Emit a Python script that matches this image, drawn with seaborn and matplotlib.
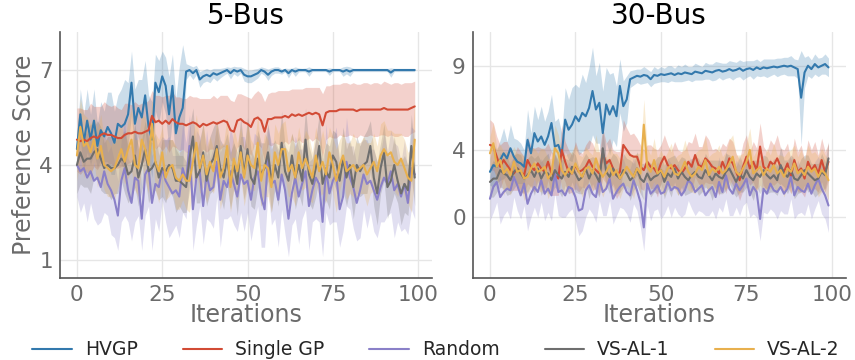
import numpy as np
import matplotlib
matplotlib.use("Agg")
import matplotlib.pyplot as plt
import seaborn as sns

iterations = np.arange(100)
methods = ["HVGP", "Single GP", "Random", "VS-AL-1", "VS-AL-2"]
colors = ["#3379ad", "#d24b35", "#8a80c8", "#6e6e6e", "#e8b04e"]

# ---- 5-Bus: mean curves ----
hvgp_5 = [4.5, 5.6, 4.7, 5.4, 4.8, 5.4, 4.6, 5.1, 4.9, 5.2,
          5.0, 4.7, 5.3, 5.2, 5.3, 5.6, 6.6, 5.3, 5.8, 5.5,
          6.2, 5.2, 4.8, 6.6, 6.3, 6.8, 6.5, 5.6, 6.5, 5.0,
          5.5, 5.8, 6.95, 7.0, 6.9, 7.0, 6.7, 6.8, 6.85, 6.8,
          6.9, 6.85, 6.9, 6.95, 7.0, 6.9, 7.0, 6.95, 7.0, 6.85,
          6.8, 6.8, 6.85, 6.9, 7.0, 6.95, 6.85, 6.95, 7.0, 7.0,
          6.95, 7.0, 6.9, 7.0, 6.95, 7.0, 7.0, 7.0, 6.95, 7.0,
          7.0, 7.0, 7.0, 7.0, 6.95, 7.0, 7.0, 7.0, 6.95, 7.0,
          6.95, 7.0, 7.0, 7.0, 7.0, 7.0, 7.0, 7.0, 7.0, 7.0,
          7.0, 7.0, 6.92, 7.0, 7.0, 7.0, 7.0, 7.0, 7.0, 7.0]
single_5 = [4.8, 4.75, 4.8, 4.75, 4.85, 4.9, 4.85, 4.95, 5.0, 4.95,
            4.95, 4.9, 4.85, 4.85, 4.95, 5.0, 5.0, 5.05, 5.0, 5.0,
            5.05, 5.1, 5.55, 5.35, 5.4, 5.3, 5.4, 5.3, 5.45, 5.35,
            5.3, 5.3, 5.25, 5.3, 5.35, 5.3, 5.2, 5.3, 5.25, 5.3,
            5.35, 5.3, 5.35, 5.4, 5.35, 5.1, 5.05, 5.4, 5.45, 5.35,
            5.3, 5.2, 5.45, 5.5, 5.4, 5.05, 5.45, 5.45, 5.5, 5.5,
            5.5, 5.55, 5.5, 5.6, 5.55, 5.6, 5.55, 5.6, 5.65, 5.6,
            5.65, 5.6, 5.25, 5.65, 5.7, 5.7, 5.7, 5.75, 5.75, 5.75,
            5.75, 5.75, 5.7, 5.75, 5.75, 5.75, 5.75, 5.75, 5.75, 5.75,
            5.8, 5.75, 5.75, 5.75, 5.75, 5.75, 5.75, 5.75, 5.8, 5.85]
random_5 = [4.0, 3.8, 3.9, 3.6, 3.8, 3.5, 3.6, 3.3, 3.8, 3.4,
            3.2, 2.9, 2.4, 3.5, 3.9, 3.2, 2.8, 3.6, 3.5, 2.3,
            3.7, 3.9, 2.8, 3.4, 3.3, 3.9, 3.5, 3.3, 3.1, 3.2,
            3.0, 3.9, 3.5, 4.6, 2.6, 3.6, 3.8, 2.7, 3.7, 3.2,
            3.3, 4.1, 2.9, 3.5, 3.3, 3.8, 3.4, 3.0, 3.7, 3.4,
            3.5, 2.9, 3.6, 3.8, 3.0, 2.6, 4.2, 3.4, 3.5, 2.9,
            3.7, 3.2, 2.3, 3.1, 3.6, 3.0, 3.4, 3.8, 2.7, 3.2,
            3.6, 3.4, 2.2, 3.9, 3.1, 3.5, 3.7, 2.6, 3.0, 4.1,
            3.6, 3.3, 2.8, 3.2, 3.7, 3.4, 3.5, 3.2, 2.9, 3.3,
            3.6, 3.4, 3.8, 3.2, 3.4, 3.0, 3.4, 2.8, 3.9, 3.7]
vsal1_5 = [4.0, 4.4, 4.1, 4.2, 4.2, 4.4, 4.5, 4.2, 3.9, 4.0,
           3.9, 3.9, 4.0, 4.2, 4.1, 3.7, 3.8, 4.3, 3.6, 4.0,
           4.5, 3.8, 3.9, 4.1, 3.6, 3.9, 3.8, 4.0, 3.9, 3.5,
           3.5, 3.4, 3.3, 4.2, 4.9, 3.6, 3.8, 4.4, 3.5, 4.0,
           4.2, 4.6, 3.9, 3.6, 4.2, 3.5, 4.0, 3.4, 4.6, 3.7,
           4.5, 3.6, 3.4, 4.2, 3.7, 3.9, 4.4, 3.5, 4.0, 3.6,
           4.7, 3.8, 3.5, 4.3, 3.6, 4.0, 3.5, 4.8, 3.7, 3.4,
           3.9, 4.6, 3.4, 3.8, 3.6, 4.3, 4.1, 3.5, 4.2, 3.6,
           4.0, 3.3, 4.0, 3.8, 4.0, 4.1, 4.6, 3.6, 3.1, 3.9,
           4.4, 3.3, 3.5, 4.0, 3.5, 3.1, 3.4, 3.2, 4.6, 3.6]
vsal2_5 = [4.3, 5.2, 4.6, 4.7, 4.4, 4.8, 4.2, 4.6, 4.0, 3.9,
           3.8, 3.9, 4.2, 4.5, 4.1, 4.5, 4.8, 4.0, 3.9, 4.8,
           4.5, 4.0, 5.3, 4.1, 3.8, 4.4, 3.6, 3.9, 4.0, 3.6,
           3.5, 3.7, 3.5, 3.5, 4.1, 4.7, 3.9, 4.3, 3.7, 4.1,
           3.8, 4.5, 3.6, 3.9, 4.6, 3.3, 4.2, 3.8, 4.4, 3.6,
           4.3, 4.0, 3.9, 4.7, 3.5, 4.0, 3.9, 3.3, 4.4, 4.0,
           4.5, 4.5, 3.8, 4.0, 3.6, 4.4, 3.9, 4.2, 3.9, 3.6,
           4.3, 3.8, 4.1, 3.7, 4.4, 4.0, 3.5, 4.0, 4.3, 3.8,
           3.9, 4.0, 3.8, 3.9, 4.0, 3.7, 3.9, 4.1, 3.8, 4.3,
           4.5, 4.3, 4.4, 4.1, 4.0, 4.2, 3.9, 3.6, 3.5, 4.8]

# ---- 5-Bus: band half-widths ----
hvgp_5_sd = [0.5, 0.8, 0.9, 1.0, 0.8, 1.0, 0.7, 0.9, 0.8, 1.1,
             1.3, 1.0, 0.9, 1.2, 1.4, 1.0, 1.0, 1.1, 0.9, 1.2,
             1.1, 1.0, 1.2, 0.9, 1.0, 0.8, 0.9, 1.2, 1.0, 1.1,
             1.6, 2.0, 0.25, 0.15, 0.2, 0.15, 0.25, 0.2, 0.2, 0.2,
             0.15, 0.2, 0.15, 0.12, 0.1, 0.18, 0.12, 0.15, 0.1, 0.2,
             0.2, 0.2, 0.18, 0.15, 0.1, 0.12, 0.18, 0.12, 0.1, 0.1,
             0.08, 0.06, 0.15, 0.06, 0.15, 0.06, 0.05, 0.06, 0.15, 0.05,
             0.05, 0.05, 0.05, 0.05, 0.12, 0.05, 0.05, 0.05, 0.15, 0.12,
             0.15, 0.05, 0.05, 0.05, 0.05, 0.05, 0.05, 0.05, 0.05, 0.05,
             0.05, 0.05, 0.15, 0.05, 0.05, 0.05, 0.05, 0.05, 0.05, 0.05]
single_5_sd = [1.0, 1.05, 0.95, 1.0, 1.1, 0.95, 1.0, 0.9, 1.0, 0.95,
               0.9, 1.0, 0.95, 0.9, 1.0, 0.95, 0.9, 0.95, 0.9, 0.95,
               0.9, 0.95, 0.8, 0.85, 0.8, 0.85, 0.8, 0.9, 0.85, 0.8,
               0.85, 0.8, 0.85, 0.9, 0.8, 0.85, 0.9, 0.8, 0.85, 0.8,
               0.85, 0.8, 0.85, 0.8, 0.85, 0.95, 0.95, 0.85, 0.8, 0.85,
               0.85, 0.9, 0.8, 0.85, 0.85, 0.95, 0.8, 0.85, 0.8, 0.85,
               0.85, 0.8, 0.85, 0.8, 0.85, 0.8, 0.85, 0.85, 0.8, 0.85,
               0.8, 0.85, 1.0, 0.85, 0.8, 0.85, 0.85, 0.8, 0.85, 0.85,
               0.8, 0.85, 0.85, 0.8, 0.85, 0.85, 0.8, 0.85, 0.85, 0.8,
               0.85, 0.85, 0.8, 0.85, 0.85, 0.8, 0.85, 0.85, 0.8, 0.8]
random_5_sd = [1.0, 1.3, 1.1, 1.4, 1.0, 1.2, 1.5, 1.1, 1.3, 1.0,
               1.4, 1.2, 1.1, 1.3, 1.5, 1.0, 1.2, 1.4, 1.1, 1.0,
               1.3, 1.2, 1.5, 1.1, 1.4, 1.0, 1.3, 1.6, 1.2, 1.1,
               1.3, 1.4, 1.2, 1.0, 1.3, 1.5, 1.1, 1.2, 1.4, 1.0,
               1.3, 1.1, 1.5, 1.2, 1.0, 1.4, 1.3, 1.1, 1.2, 1.5,
               1.0, 1.3, 1.4, 1.1, 1.6, 1.2, 1.0, 1.3, 1.2, 1.5,
               1.1, 1.4, 1.2, 1.0, 1.3, 1.5, 1.1, 1.2, 1.4, 1.0,
               1.3, 1.2, 1.1, 1.4, 1.0, 1.3, 1.5, 1.2, 1.1, 1.4,
               1.0, 1.3, 1.2, 1.5, 1.1, 1.4, 1.0, 1.3, 1.2, 1.1,
               1.4, 1.0, 1.3, 1.5, 1.2, 1.1, 1.4, 1.0, 1.3, 1.4]
vsal1_5_sd = [0.9, 1.0, 0.8, 0.9, 1.1, 0.8, 0.9, 1.0, 0.8, 0.9,
              1.0, 0.8, 0.9, 0.7, 1.0, 0.9, 0.8, 1.0, 0.9, 0.8,
              0.9, 1.0, 0.8, 0.9, 0.7, 0.9, 1.0, 0.8, 0.9, 1.0,
              0.8, 0.9, 0.8, 1.0, 0.9, 0.8, 1.0, 0.9, 0.8, 0.9,
              1.0, 0.8, 0.9, 1.0, 0.8, 0.9, 0.7, 1.0, 0.9, 0.8,
              1.0, 0.9, 0.8, 0.9, 1.0, 0.8, 0.9, 1.0, 0.8, 0.9,
              1.0, 0.8, 0.9, 0.7, 1.0, 0.9, 0.8, 1.0, 0.9, 0.8,
              0.9, 1.0, 0.8, 0.9, 1.0, 0.8, 0.9, 0.7, 1.0, 0.9,
              0.8, 1.0, 0.9, 0.8, 0.9, 1.0, 0.8, 0.9, 1.0, 0.8,
              0.9, 1.0, 0.8, 0.9, 0.7, 1.0, 0.9, 0.8, 1.0, 0.9]
vsal2_5_sd = [0.8, 0.9, 1.0, 0.8, 0.9, 0.7, 0.9, 1.0, 0.8, 0.9,
              0.8, 1.0, 0.9, 0.8, 0.7, 0.9, 1.0, 0.8, 0.9, 0.8,
              1.0, 0.9, 0.8, 0.9, 1.0, 0.8, 0.7, 0.9, 0.8, 1.0,
              0.9, 0.8, 0.9, 1.0, 0.8, 0.9, 0.8, 1.0, 0.9, 0.8,
              0.7, 0.9, 1.0, 0.8, 0.9, 0.8, 1.0, 0.9, 0.8, 0.9,
              1.0, 0.8, 0.7, 0.9, 0.8, 1.0, 0.9, 0.8, 0.9, 1.0,
              0.8, 0.9, 0.8, 1.0, 0.9, 0.8, 0.7, 0.9, 1.0, 0.8,
              0.9, 0.8, 1.0, 0.9, 0.8, 0.9, 1.0, 0.8, 0.7, 0.9,
              0.8, 1.0, 0.9, 0.8, 0.9, 1.0, 0.8, 0.9, 0.8, 1.0,
              0.9, 0.8, 0.7, 0.9, 1.0, 0.8, 0.9, 0.8, 1.0, 1.2]

# ---- 30-Bus: mean curves ----
hvgp_30 = [2.7, 3.1, 3.0, 3.4, 3.8, 3.5, 4.1, 3.6, 3.3, 3.2,
           3.0, 4.6, 3.8, 5.0, 4.5, 4.8, 4.3, 4.8, 5.6, 4.2,
           4.3, 3.7, 5.8, 5.2, 5.5, 6.0, 5.7, 6.2, 6.0, 6.5,
           7.5, 6.4, 6.8, 5.0, 6.7, 6.1, 6.6, 6.0, 7.8, 6.6,
           7.0, 8.2, 8.3, 8.4, 8.35, 8.45, 8.4, 8.2, 8.45, 8.4,
           8.5, 8.45, 8.5, 8.55, 8.45, 8.55, 8.5, 8.6, 8.55, 8.5,
           8.65, 8.6, 8.55, 8.7, 8.65, 8.6, 8.7, 8.75, 8.65, 8.7,
           8.8, 8.7, 8.75, 8.85, 8.7, 8.8, 8.85, 8.75, 8.9, 8.8,
           8.9, 8.85, 8.9, 8.95, 8.9, 8.95, 9.0, 8.95, 9.0, 8.9,
           8.8, 7.1, 8.6, 9.0, 8.8, 9.1, 8.9, 9.0, 9.1, 8.9]
single_30 = [4.3, 4.2, 3.6, 3.0, 3.4, 3.1, 2.8, 2.6, 2.9, 2.7,
             2.5, 3.4, 3.0, 2.8, 3.2, 2.9, 2.7, 3.3, 2.6, 2.5,
             2.3, 4.0, 3.3, 2.7, 2.6, 3.1, 2.7, 2.8, 3.0, 3.4,
             3.0, 2.8, 2.6, 3.8, 3.2, 3.4, 2.9, 2.5, 2.7, 4.3,
             4.0, 3.7, 3.6, 3.6, 3.0, 2.8, 3.3, 3.0, 2.9, 2.6,
             3.2, 3.6, 3.1, 2.9, 3.1, 2.8, 2.6, 2.9, 3.3, 3.0,
             3.7, 3.1, 3.0, 3.5, 3.3, 3.0, 2.9, 2.6, 3.3, 2.8,
             3.5, 3.2, 2.7, 2.2, 3.0, 3.6, 2.9, 3.3, 2.8, 4.2,
             3.0, 2.8, 3.3, 3.1, 3.5, 3.0, 2.7, 3.2, 2.4, 3.4,
             2.7, 2.9, 2.3, 3.3, 2.8, 3.1, 2.6, 3.4, 2.7, 3.3]
random_30 = [1.1, 1.8, 2.1, 1.2, 1.5, 1.7, 1.6, 2.4, 1.9, 1.3,
             2.0, 0.8, 1.4, 1.8, 1.5, 2.2, 1.4, 1.7, 1.3, 2.6,
             1.5, 1.6, 1.3, 1.8, 1.7, 1.2, 0.4, 0.5, 1.6, 1.9,
             1.4, 1.2, 2.3, 1.5, 1.7, 2.3, 1.1, 1.5, 1.8, 2.0,
             1.5, 1.3, 2.2, 1.6, 0.9, -0.6, 2.0, 1.4, 1.6, 1.9,
             1.4, 1.5, 2.1, 1.6, 1.8, 1.7, 1.3, 1.6, 2.2, 2.0,
             1.5, 1.7, 1.9, 1.3, 1.6, 1.8, 1.2, 2.1, 1.5, 2.5,
             1.7, 1.4, 2.0, 1.6, 1.9, 2.3, 1.3, 1.8, 1.5, -0.1,
             1.7, 1.4, 2.0, 1.6, 1.5, 1.8, 1.4, 1.7, 2.4, 1.3,
             1.8, 1.6, 1.5, 2.0, 1.4, 1.9, 2.3, 1.7, 1.3, 0.7]
vsal1_30 = [2.1, 2.3, 2.3, 2.8, 2.6, 2.5, 2.2, 2.7, 2.9, 2.6,
            2.3, 2.5, 2.8, 2.4, 2.9, 2.3, 2.7, 2.6, 2.2, 2.8,
            2.5, 2.3, 2.7, 2.4, 3.0, 2.6, 2.2, 2.4, 2.9, 2.3,
            2.8, 2.5, 2.1, 4.1, 2.7, 2.4, 2.9, 2.5, 2.3, 2.8,
            2.6, 2.2, 2.4, 2.9, 2.3, 2.1, 2.6, 2.2, 2.4, 2.5,
            2.8, 2.1, 2.6, 2.4, 2.9, 2.3, 2.7, 2.4, 2.2, 2.5,
            2.7, 2.4, 2.3, 2.8, 2.5, 2.2, 2.6, 2.4, 2.3, 2.7,
            2.9, 2.5, 2.1, 2.6, 2.3, 2.8, 2.4, 2.2, 2.6, 2.4,
            2.8, 2.5, 2.3, 2.5, 2.2, 3.1, 2.6, 2.4, 2.8, 2.3,
            2.2, 2.5, 2.8, 2.6, 2.4, 2.2, 2.3, 2.7, 2.5, 3.5]
vsal2_30 = [3.8, 4.4, 3.0, 3.4, 2.6, 2.9, 2.5, 3.3, 2.7, 2.8,
            2.3, 2.4, 2.9, 3.2, 2.7, 2.8, 3.0, 2.3, 2.6, 4.1,
            3.8, 2.8, 2.5, 2.9, 2.6, 3.2, 2.7, 2.4, 2.9, 3.0,
            2.6, 3.5, 2.8, 2.4, 2.7, 3.1, 2.5, 2.8, 2.3, 2.6,
            3.0, 2.7, 2.4, 2.9, 2.6, 5.5, 3.0, 2.7, 3.4, 2.6,
            2.8, 2.4, 2.9, 3.1, 2.6, 2.5, 2.8, 3.3, 2.7, 2.4,
            2.6, 3.0, 2.8, 3.4, 2.5, 2.9, 2.7, 3.0, 2.6, 2.8,
            3.2, 3.6, 2.7, 2.5, 2.9, 3.3, 4.0, 2.6, 2.8, 3.0,
            2.5, 2.9, 2.7, 3.1, 2.6, 2.8, 2.4, 2.9, 2.7, 3.2,
            2.6, 2.8, 2.5, 3.0, 2.7, 2.9, 2.4, 2.8, 2.6, 2.2]

# ---- 30-Bus: band half-widths ----
hvgp_30_sd = [0.8, 1.3, 1.0, 1.2, 1.5, 1.0, 1.4, 1.1, 1.3, 1.2,
              1.0, 1.8, 1.2, 1.6, 1.3, 1.8, 1.4, 1.5, 1.7, 1.5,
              1.6, 1.3, 1.9, 1.8, 2.2, 1.9, 2.0, 2.3, 2.0, 2.4,
              2.6, 2.0, 2.4, 2.5, 2.2, 2.4, 2.0, 1.8, 1.6, 1.5,
              1.4, 0.5, 0.45, 0.4, 0.45, 0.5, 0.4, 0.45, 0.5, 0.4,
              0.45, 0.4, 0.5, 0.45, 0.4, 0.5, 0.45, 0.5, 0.4, 0.45,
              0.5, 0.45, 0.4, 0.5, 0.45, 0.5, 0.55, 0.45, 0.5, 0.45,
              0.5, 0.55, 0.45, 0.5, 0.55, 0.5, 0.45, 0.55, 0.5, 0.45,
              0.5, 0.55, 0.5, 0.45, 0.55, 0.5, 0.5, 0.55, 0.6, 0.5,
              0.55, 2.8, 0.9, 0.6, 0.55, 0.6, 0.55, 0.5, 0.6, 0.55]
single_30_sd = [1.5, 1.4, 1.2, 1.3, 1.1, 1.4, 1.2, 1.0, 1.3, 1.2,
                1.1, 1.4, 1.2, 1.3, 1.0, 1.2, 1.4, 1.1, 1.3, 1.2,
                1.0, 1.5, 1.2, 1.3, 1.1, 1.4, 1.2, 1.0, 1.3, 1.2,
                1.4, 1.1, 1.3, 1.5, 1.2, 1.3, 1.1, 1.4, 1.2, 1.5,
                1.3, 1.2, 1.4, 1.1, 1.3, 1.2, 1.0, 1.3, 1.2, 1.4,
                1.1, 1.3, 1.2, 1.0, 1.4, 1.2, 1.3, 1.1, 1.2, 1.4,
                1.3, 1.1, 1.2, 1.4, 1.3, 1.0, 1.2, 1.3, 1.1, 1.4,
                1.2, 1.3, 1.1, 1.2, 1.4, 1.3, 1.0, 1.2, 1.3, 1.4,
                1.2, 1.1, 1.3, 1.2, 1.4, 1.1, 1.3, 1.2, 1.0, 1.3,
                1.2, 1.4, 1.1, 1.3, 1.2, 1.4, 1.1, 1.3, 1.2, 1.1]
random_30_sd = [1.3, 1.5, 1.2, 1.6, 1.4, 1.3, 1.7, 1.2, 1.5, 1.4,
                1.3, 1.6, 1.4, 1.2, 1.5, 1.3, 1.6, 1.4, 1.5, 1.2,
                1.4, 1.6, 1.3, 1.5, 1.2, 1.4, 1.5, 1.3, 1.6, 1.4,
                1.2, 1.5, 1.3, 1.4, 1.6, 1.3, 1.5, 1.4, 1.2, 1.5,
                1.3, 1.6, 1.4, 1.2, 1.5, 1.4, 1.3, 1.6, 1.2, 1.4,
                1.5, 1.3, 1.4, 1.6, 1.2, 1.5, 1.3, 1.4, 1.2, 1.5,
                1.4, 1.3, 1.6, 1.2, 1.5, 1.4, 1.3, 1.5, 1.2, 1.4,
                1.6, 1.3, 1.4, 1.5, 1.2, 1.4, 1.3, 1.6, 1.5, 1.3,
                1.4, 1.2, 1.5, 1.3, 1.6, 1.4, 1.2, 1.5, 1.3, 1.4,
                1.6, 1.3, 1.4, 1.2, 1.5, 1.4, 1.3, 1.5, 1.4, 1.6]
vsal1_30_sd = [0.9, 1.1, 0.8, 1.0, 0.9, 1.2, 0.8, 1.0, 0.9, 1.1,
               0.8, 1.0, 0.9, 1.1, 0.8, 1.0, 0.9, 1.2, 0.8, 1.0,
               0.9, 1.1, 0.8, 1.0, 0.9, 1.1, 0.8, 1.0, 0.9, 1.2,
               0.8, 1.0, 0.9, 1.1, 0.8, 1.0, 0.9, 1.1, 0.8, 1.0,
               0.9, 1.2, 0.8, 1.0, 0.9, 1.1, 0.8, 1.0, 0.9, 1.1,
               0.8, 1.0, 0.9, 1.2, 0.8, 1.0, 0.9, 1.1, 0.8, 1.0,
               0.9, 1.1, 0.8, 1.0, 0.9, 1.2, 0.8, 1.0, 0.9, 1.1,
               0.8, 1.0, 0.9, 1.1, 0.8, 1.0, 0.9, 1.2, 0.8, 1.0,
               0.9, 1.1, 0.8, 1.0, 0.9, 1.1, 0.8, 1.0, 0.9, 1.2,
               0.8, 1.0, 0.9, 1.1, 0.8, 1.0, 0.9, 1.1, 0.8, 1.0]
vsal2_30_sd = [1.0, 1.2, 1.1, 0.9, 1.3, 1.0, 1.2, 0.9, 1.1, 1.0,
               1.3, 1.0, 1.2, 0.9, 1.1, 1.3, 1.0, 1.2, 0.9, 1.4,
               1.1, 1.0, 1.2, 0.9, 1.3, 1.1, 1.0, 1.2, 1.3, 0.9,
               1.1, 1.4, 1.0, 1.2, 0.9, 1.1, 1.3, 1.0, 1.2, 0.9,
               1.1, 1.0, 1.3, 0.9, 1.2, 1.5, 1.1, 1.0, 1.3, 0.9,
               1.2, 1.1, 1.0, 1.3, 0.9, 1.2, 1.0, 1.3, 1.1, 0.9,
               1.2, 1.0, 1.3, 1.4, 1.1, 0.9, 1.2, 1.3, 1.0, 1.1,
               1.4, 1.3, 1.0, 1.2, 0.9, 1.1, 1.3, 1.0, 1.2, 1.1,
               0.9, 1.2, 1.0, 1.3, 1.1, 0.9, 1.2, 1.0, 1.3, 1.1,
               1.0, 1.2, 0.9, 1.3, 1.1, 1.0, 1.2, 1.3, 1.1, 1.2]

panels = [
    ("5-Bus", [hvgp_5, single_5, random_5, vsal1_5, vsal2_5],
     [hvgp_5_sd, single_5_sd, random_5_sd, vsal1_5_sd, vsal2_5_sd],
     [1, 4, 7], (0.43, 8.2)),
    ("30-Bus", [hvgp_30, single_30, random_30, vsal1_30, vsal2_30],
     [hvgp_30_sd, single_30_sd, random_30_sd, vsal1_30_sd, vsal2_30_sd],
     [0, 4, 9], (-3.6, 11.0)),
]

sns.set_style("whitegrid")
plt.rcParams["font.family"] = ["DejaVu Sans"]
tick_gray = "#6b6b6b"

fig = plt.figure(figsize=(8.55, 3.6), dpi=100)
axes = [fig.add_axes([0.070, 0.228, 0.435, 0.683]),
        fig.add_axes([0.553, 0.228, 0.436, 0.683])]

for ax, (title, means, sds, yticks, ylim) in zip(axes, panels):
    for name, col, m, s in zip(methods, colors, means, sds):
        m = np.array(m)
        s = np.array(s)
        ax.fill_between(iterations, m - s, m + s, color=col, alpha=0.25, linewidth=0)
        sns.lineplot(x=iterations, y=m, color=col, linewidth=1.5, label=name, ax=ax)
    ax.set_title(title, fontsize=20, color="black", pad=6)
    ax.set_xlim(-5, 104)
    ax.set_ylim(*ylim)
    ax.set_xticks([0, 25, 50, 75, 100])
    ax.set_yticks(yticks)
    ax.tick_params(axis="both", labelsize=15.5, labelcolor=tick_gray, length=3,
                   color="#555555", pad=2)
    ax.set_xlabel("Iterations", fontsize=17, color=tick_gray, labelpad=-1)
    ax.grid(True, color="#e6e6e6", linewidth=1)
    for side in ["top", "right"]:
        ax.spines[side].set_visible(False)
    for side in ["left", "bottom"]:
        ax.spines[side].set_color("#555555")
        ax.spines[side].set_linewidth(1.2)
    ax.get_legend().remove()

axes[0].set_ylabel("Preference Score", fontsize=17, color=tick_gray, labelpad=2)
axes[1].set_ylabel("")

handles, labels = axes[0].get_legend_handles_labels()
fig.legend(handles, labels, loc="lower center", bbox_to_anchor=(0.51, -0.045), ncol=5,
           frameon=False, fontsize=13.5, handlelength=2.1, handletextpad=0.7,
           columnspacing=2.4)

fig.savefig("out.png", dpi=100)
